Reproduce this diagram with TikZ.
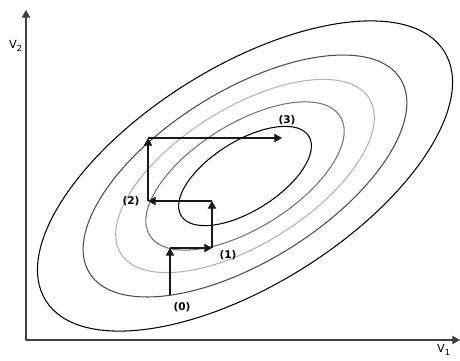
\documentclass[tikz,border=0pt]{standalone}
\usepackage{fontspec}
\setmainfont{DejaVu Sans}
\usepackage{tikz}
\usetikzlibrary{arrows.meta}

\begin{document}
\begin{tikzpicture}[
    >={Triangle[length=5.5pt,width=6pt]},
    lbl/.style={font=\footnotesize},
    step_lbl/.style={font=\fontsize{7.5}{9}\selectfont\bfseries},
    axis_style/.style={black!75, line width=0.9pt},
    contour_style/.style={line width=0.75pt},
    step_style/.style={->, black!90, line width=0.8pt}
  ]
  \useasboundingbox (0,0) rectangle (11.5,9);

  % 1. Axes
  \coordinate (O) at (0.65, 0.5);
  \coordinate (Ytop) at (0.65, 8.75);
  \coordinate (Xend) at (11.5, 0.5);
  \draw[axis_style, ->] (O) -- (Ytop);
  \draw[axis_style, ->] (O) -- (Xend);
  \node[lbl] (v2) at (0.4, 7.85) {V\textsubscript{2}};
  \node[lbl] (v1) at (11.1, 0.25) {V\textsubscript{1}};

  % 2. Contour lines around the minimum
  \coordinate (ctr) at (6.125, 4.6);
  \foreach \s/\c in {1/black, 0.78/black!70, 0.623/black!30, 0.478/black!55, 0.32/black} {
    \draw[contour_style, \c] (ctr) circle [x radius=5.875*\s, y radius=2.725*\s, rotate=32];
  }

  % 3. Coordinate steps (0) -> (3)
  \coordinate (p0) at (4.25, 1.625);
  \coordinate (p1) at (4.25, 2.8);
  \coordinate (p2) at (5.3, 2.8);
  \coordinate (p3) at (5.3, 3.975);
  \coordinate (p4) at (3.7, 3.975);
  \coordinate (p5) at (3.7, 5.55);
  \coordinate (p6) at (7.05, 5.55);
  \draw[step_style] (p0) -- (p1);
  \draw[step_style] (p1) -- (p2);
  \draw[step_style] (p2) -- (p3);
  \draw[step_style] (p3) -- (p4);
  \draw[step_style] (p4) -- (p5);
  \draw[step_style] (p5) -- (p6);

  % 4. Step labels
  \node[step_lbl] (s0) at (4.55, 1.325) {(0)};
  \node[step_lbl] (s1) at (5.7, 2.625) {(1)};
  \node[step_lbl] (s2) at (3.275, 3.975) {(2)};
  \node[step_lbl] (s3) at (7.175, 6.0) {(3)};

\end{tikzpicture}
\end{document}
